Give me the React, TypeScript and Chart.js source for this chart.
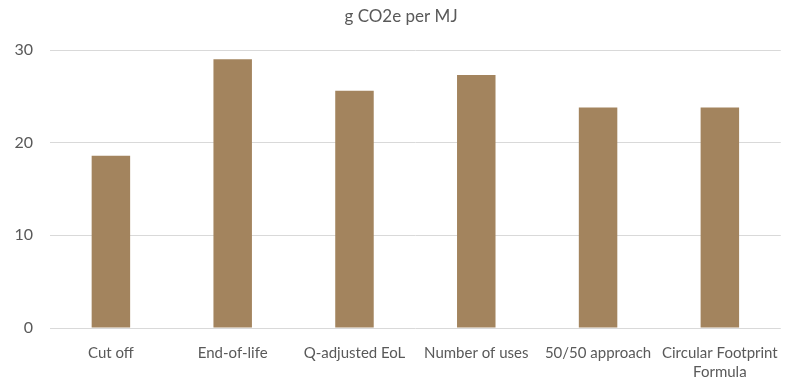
import React, { useEffect, useRef } from "react";
import { Chart, registerables } from "chart.js";

Chart.register(...registerables);

const categories: (string | string[])[] = [
  "Cut off",
  "End-of-life",
  "Q-adjusted EoL",
  "Number of uses",
  "50/50 approach",
  ["Circular Footprint", "Formula"],
];
const emissions = [18.6, 29.0, 25.6, 27.3, 23.8, 23.8];
const yTicks = [0, 10, 20, 30];
const titleText = "g CO2e per MJ";

const FONT = "Lato, 'Open Sans', sans-serif";
const TEXT = "#595959";
const GRID = "#d9d9d9";
const BAR = "#a3845e";

const titlePlugin = {
  id: "centerTitle",
  afterDraw(chart: Chart) {
    const ctx = chart.ctx;
    ctx.save();
    ctx.font = `17px ${FONT}`;
    ctx.fillStyle = TEXT;
    ctx.textAlign = "center";
    ctx.textBaseline = "middle";
    ctx.fillText(titleText, 401, 17);
    ctx.restore();
  },
};

export default function App() {
  const ref = useRef<HTMLCanvasElement>(null);

  useEffect(() => {
    document.body.style.margin = "0";
    const canvas = ref.current!;
    const chart = new Chart(canvas, {
      type: "bar",
      data: {
        labels: categories,
        datasets: [
          {
            data: emissions,
            backgroundColor: BAR,
            categoryPercentage: 1,
            barPercentage: 0.316,
          },
        ],
      },
      options: {
        animation: false,
        responsive: false,
        maintainAspectRatio: false,
        layout: { padding: { top: 50, left: 0, right: 3, bottom: 0 } },
        plugins: {
          legend: { display: false },
          title: { display: false },
          tooltip: { enabled: false },
        },
        scales: {
          x: {
            grid: { display: false },
            border: { display: false },
            ticks: {
              color: TEXT,
              font: { family: FONT, size: 15, lineHeight: 1.3 },
              padding: 7,
              maxRotation: 0,
              autoSkip: false,
            },
            afterFit(scale: any) {
              scale.height = 49;
            },
          },
          y: {
            min: 0,
            max: 30,
            afterBuildTicks(scale: any) {
              scale.ticks = yTicks.map((v) => ({ value: v }));
            },
            grid: { color: GRID, lineWidth: 1, drawTicks: false },
            border: { display: false },
            ticks: {
              color: TEXT,
              font: { family: FONT, size: 16 },
              padding: 17,
            },
            afterFit(scale: any) {
              scale.width = 50;
            },
          },
        },
      },
      plugins: [titlePlugin],
    });
    return () => chart.destroy();
  }, []);

  return (
    <div style={{ width: 785, height: 377, background: "#fff" }}>
      <canvas ref={ref} width={785} height={377} />
    </div>
  );
}
